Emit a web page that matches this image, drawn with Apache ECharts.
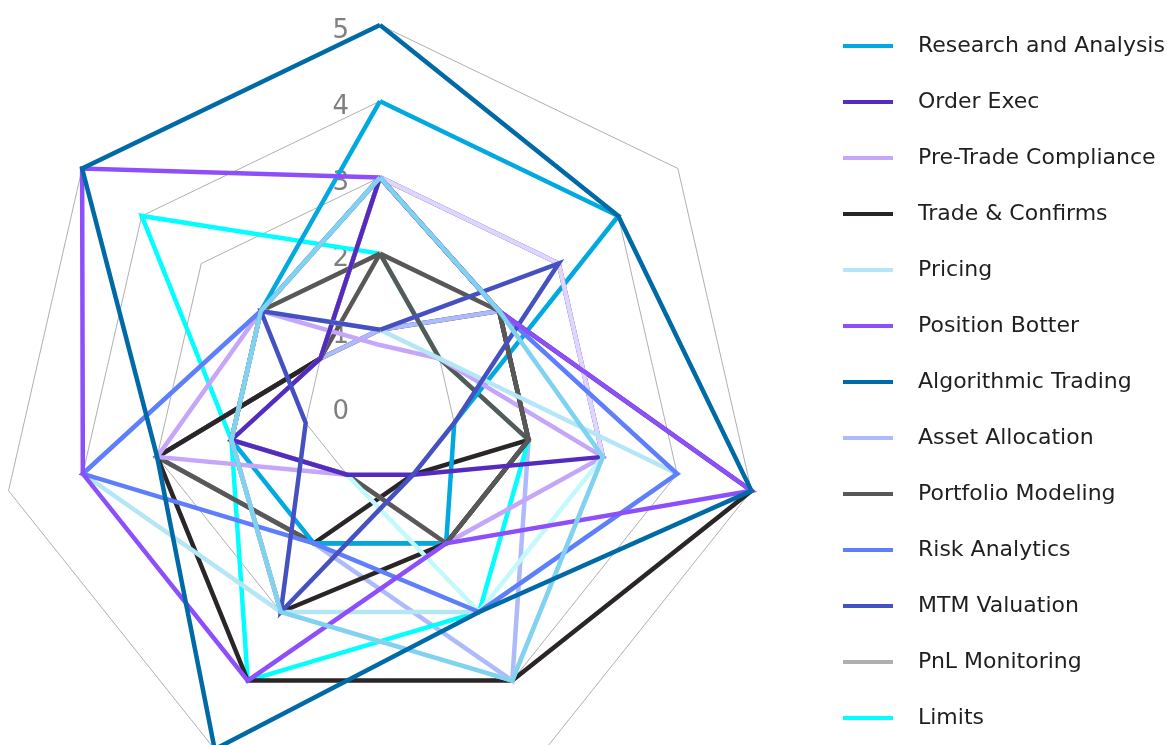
<!DOCTYPE html>
<html><head><meta charset="utf-8">
<script src="https://cdn.jsdelivr.net/npm/echarts@6/dist/echarts.min.js"></script>
<style>html,body{margin:0;padding:0;background:#fff}#c{width:1176px;height:745px}</style>
</head><body><div id="c"></div>
<script>
// Axes listed clockwise starting from the top spoke
const axes = ['Axis 1', 'Axis 2', 'Axis 3', 'Axis 4', 'Axis 5', 'Axis 6', 'Axis 7'];
const tickLabels = ['0', '1', '2', '3', '4', '5'];

// Series values (clockwise from top)
const researchAndAnalysis = [4, 4, 1, 2, 2, 2, 2];
const orderExec          = [3, 3, 3, 1, 1, 2, 1];
const preTradeCompliance = [0.8, 1, 3, 2, 1, 3, 2];
const tradeAndConfirms   = [3, 2, 5, 4, 4, 3, 1];
const pricing            = [1, 1, 4, 3, 3, 4, 2];
const positionBotter     = [3, 2, 5, 2, 4, 4, 5];
const algorithmicTrading = [5, 4, 5, 3, 5, 3, 5];
const assetAllocation    = [1, 2, 2, 4, 2, 3, 1];
const portfolioModeling  = [2, 2, 2, 2, 1, 2, 2];
const riskAnalytics      = [3, 2, 4, 3, 2, 4, 2];
const mtmValuation       = [1, 3, 1, 1, 3, 1, 2];
const pnlMonitoring      = [0, 0, 0, 0, 0, 0, 0];
const limits             = [2, 1, 2, 3, 4, 2, 4];
// further series whose legend entries lie below the visible area
const extraSkyBlue       = [3, 2, 3, 4, 3, 2, 2];
const extraPaleLavender  = [3, 3, 3, 4, 3, 2, 2];
const extraPaleCyan      = [3, 3, 3, 3, 1, 2, 1];
const extraBlackA        = [1, 2, 2, 1, 2, 3, 1];
const extraBlackB        = [3, 2, 2, 2, 3, 2, 2];
const extraGrey          = [2, 1, 2, 2, 2, 3, 1];

const legendNames = ['Research and Analysis', 'Order Exec', 'Pre-Trade Compliance', 'Trade & Confirms',
  'Pricing', 'Position Botter', 'Algorithmic Trading', 'Asset Allocation', 'Portfolio Modeling',
  'Risk Analytics', 'MTM Valuation', 'PnL Monitoring', 'Limits'];

// drawing order: bottom to top
const drawList = [
  ['PnL Monitoring', pnlMonitoring, '#b0aeae'],
  ['Series 17', extraBlackA, '#2a2627'],
  ['Asset Allocation', assetAllocation, '#aebbfb'],
  ['Limits', limits, '#00ffff'],
  ['Series 19', extraGrey, '#5a5757'],
  ['Research and Analysis', researchAndAnalysis, '#00a9e0'],
  ['Trade & Confirms', tradeAndConfirms, '#2a2627'],
  ['Pre-Trade Compliance', preTradeCompliance, '#c5a6fb'],
  ['Series 18', extraBlackB, '#2a2627'],
  ['Portfolio Modeling', portfolioModeling, '#5a5757'],
  ['Series 16', extraPaleCyan, '#c2f9fc'],
  ['Order Exec', orderExec, '#552bbf'],
  ['Series 15', extraPaleLavender, '#e0d6fd'],
  ['Pricing', pricing, '#b5e6f6'],
  ['Risk Analytics', riskAnalytics, '#5f7efb'],
  ['MTM Valuation', mtmValuation, '#4551c1'],
  ['Position Botter', positionBotter, '#8c4ffb'],
  ['Series 14', extraSkyBlue, '#7fd3f0'],
  ['Algorithmic Trading', algorithmicTrading, '#006aa6']
];

// ECharts lays radar spokes out counter-clockwise; reorder clockwise lists
const toEc = v => [v[0], v[6], v[5], v[4], v[3], v[2], v[1]];

const indicator = toEc(axes).map((n, i) => {
  const ind = { name: n, min: 0, max: 5 };
  if (i === 0) {
    ind.axisLabel = {
      show: true, color: '#7f7f7f', fontSize: 26, fontFamily: 'DejaVu Sans',
      margin: 31, verticalAlign: 'top', lineHeight: 12,
      formatter: v => tickLabels[Math.round(v)]
    };
  }
  return ind;
});

const chart = echarts.init(document.getElementById('c'), null, { renderer: 'canvas' });
chart.setOption({
  animation: false,
  backgroundColor: '#ffffff',
  legend: {
    data: legendNames,
    orient: 'vertical', left: 843, top: 32, padding: 0,
    icon: 'rect', itemWidth: 50, itemHeight: 4, itemGap: 28,
    selectedMode: false,
    textStyle: { fontSize: 22, fontFamily: 'DejaVu Sans', color: '#1f1f1f', lineHeight: 28, padding: [0, 0, 0, 20] }
  },
  radar: {
    center: [380, 406], radius: 381, startAngle: 90, shape: 'polygon', splitNumber: 5,
    indicator: indicator,
    axisName: { show: false },
    axisLine: { show: false },
    axisTick: { show: false },
    axisLabel: { show: false },
    splitLine: { lineStyle: { color: '#b0b0b0', width: 1 } },
    splitArea: { show: false }
  },
  series: [{
    type: 'radar',
    symbol: 'none',
    emphasis: { disabled: true },
    data: drawList.map(([name, vals, color]) => ({
      name: name,
      value: toEc(vals),
      itemStyle: { color: color },
      lineStyle: { color: color, width: 4.5, join: 'miter' }
    }))
  }]
});
</script>
</body></html>
